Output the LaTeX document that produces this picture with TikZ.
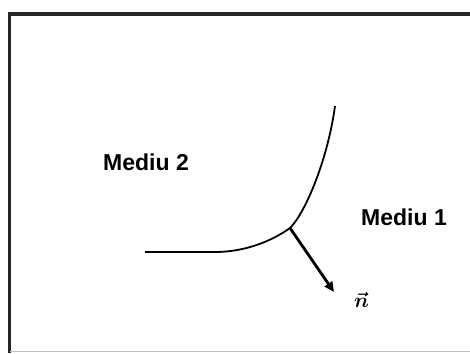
\documentclass[tikz,border=0pt]{standalone}
\usepackage{fontspec}
\setmainfont{Liberation Sans}
\usepackage{tikz}
\usetikzlibrary{arrows.meta,
                positioning
                }

\begin{document}
\begin{tikzpicture}[x=1pt, y=1pt,
  frame/.style = {line width=3.5pt, black!85},
  iface/.style = {line width=1.8pt},
 normal/.style = {line width=2.8pt, -{Triangle[length=10pt,width=9pt]}},
 medium/.style = {font=\fontsize{23}{27}\selectfont\bfseries, inner sep=0pt}
                    ]
\useasboundingbox (0,0) rectangle (470,353);
% frame (right side cut off)
\draw[frame] (9.5,0) -- (9.5,339) -- (470,339);
\draw[black!25, line width=0.6pt] (9.5,2) -- (470,2);
% interface between the two media
\coordinate (p) at (290,125);
\coordinate (tip) at (334,61);
\draw[iface] (145,101) -- (215,101) .. controls (245,101) and (272,112) .. (p)
             .. controls (306,141) and (328,195) .. (335,247);
\draw[normal] (p) -- (tip);
% labels
\node (m2) [medium] at (146,191) {Mediu 2};
\node (m1) [medium] at (404,136) {Mediu 1};
\node (n)  [font=\fontsize{20}{24}\selectfont\boldmath, inner sep=0pt,
            right=20pt of tip, yshift=-8pt] {$\vec{n}$};
\end{tikzpicture}
\end{document}
